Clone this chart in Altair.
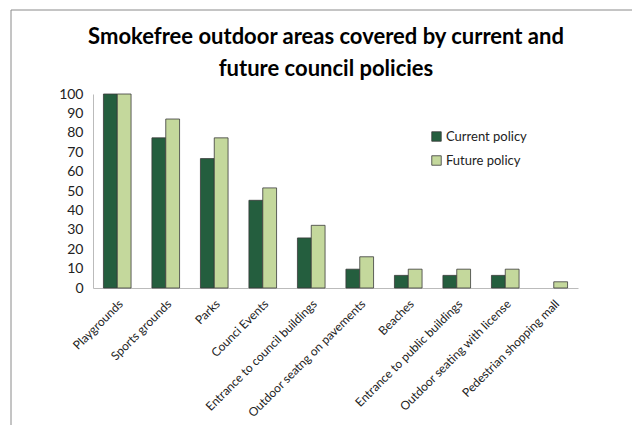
import altair as alt
import pandas as pd

categories = ["Playgrounds", "Sports grounds", "Parks", "Counci Events",
              "Entrance to council buildings", "Outdoor seatng on pavements",
              "Beaches", "Entrance to public buildings",
              "Outdoor seating with license", "Pedestrian shopping mall"]
current_policy = [100, 77.4, 66.7, 45.2, 25.8, 9.7, 6.5, 6.5, 6.5, 0]
future_policy = [100, 87.1, 77.4, 51.6, 32.3, 16.1, 9.7, 9.7, 9.7, 3.2]
series = ["Current policy", "Future policy"]
colors = ["#245E3E", "#C4D89C"]
title_lines = ["Smokefree outdoor areas covered by current and", "future council policies"]

rows = []
for c, a, b in zip(categories, current_policy, future_policy):
    rows.append({"area": c, "policy": series[0], "value": a})
    rows.append({"area": c, "policy": series[1], "value": b})
df = pd.DataFrame(rows)

FONT = "Lato"

bars = alt.Chart(df).mark_bar(stroke="#3a3a3a", strokeWidth=0.8).encode(
    x=alt.X("area:N", sort=categories, title=None,
            scale=alt.Scale(paddingInner=0.43, paddingOuter=0.215),
            axis=alt.Axis(labelAngle=-45, labelFontSize=12, labelFont=FONT,
                          labelColor="#222222", ticks=False, domainColor="#BBBBBB",
                          labelPadding=10, labelLimit=300)),
    xOffset=alt.XOffset("policy:N", sort=series),
    y=alt.Y("value:Q", title=None,
            scale=alt.Scale(domain=[0, 100]),
            axis=alt.Axis(values=list(range(0, 101, 10)), grid=False, ticks=False,
                          labelFontSize=14, labelFont=FONT, labelColor="#222222",
                          domainColor="#BBBBBB", labelPadding=10)),
    color=alt.Color("policy:N", sort=series,
                    scale=alt.Scale(domain=series, range=colors),
                    legend=alt.Legend(title=None, orient="none", legendX=337, legendY=36,
                                      symbolType="square", symbolSize=90,
                                      symbolStrokeColor="#3a3a3a", symbolStrokeWidth=0.8,
                                      labelFontSize=13, labelFont=FONT, labelColor="#222222",
                                      rowPadding=10, labelOffset=3)),
    strokeOpacity=alt.condition("datum.value > 0", alt.value(1), alt.value(0)),
)

frame = alt.Chart(pd.DataFrame({"k": [0]})).mark_rect(
    filled=False, stroke="#8A8A8A", strokeWidth=1
).encode(
    x=alt.value(-82), x2=alt.value(640), y=alt.value(-84), y2=alt.value(400)
)

title = alt.Chart(pd.DataFrame({"k": [0]})).mark_text(
    text=title_lines, font=FONT, fontSize=22, fontWeight="bold", color="#000000",
    align="center", baseline="alphabetic", lineHeight=32
).encode(x=alt.value(233), y=alt.value(-50))

chart = alt.layer(frame, title, bars).properties(
    width=485, height=194,
    padding={"left": 93, "top": 94, "right": 54, "bottom": 137},
    autosize=alt.AutoSizeParams(type="none"),
    background="white",
).configure_view(stroke=None)

chart.save("out.html", embed_options={"renderer": "svg", "actions": False})
